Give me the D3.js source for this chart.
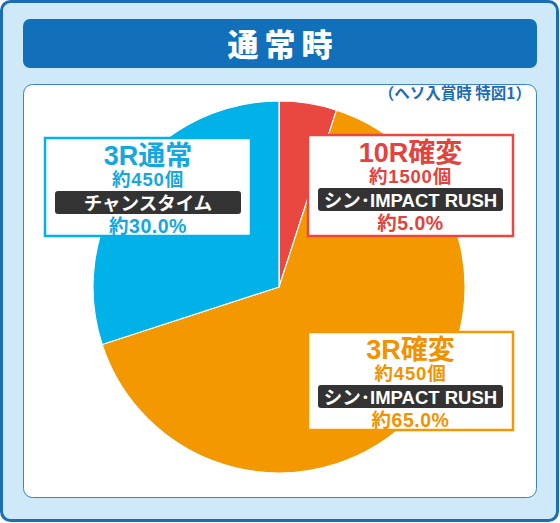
<!DOCTYPE html>
<html>
<head>
<meta charset="utf-8">
<script src="https://cdn.jsdelivr.net/npm/d3@7"></script>
<style>
  body { margin: 0; background: #fff; }
  svg text { font-family: "Liberation Sans", "Noto Sans CJK JP", sans-serif; }
  svg text.jp { font-family: "Noto Sans CJK JP", sans-serif; }
</style>
</head>
<body>
<div id="chart"></div>
<script>
const title = '通常時';
const subtitle = '（ヘソ入賞時 特図1）';

// slices, clockwise from 12 o'clock
const categories = ['10R確変', '3R確変', '3R通常'];
const payouts = ['約1500個', '約450個', '約450個'];
const modes = ['シン･IMPACT RUSH', 'シン･IMPACT RUSH', 'チャンスタイム'];
const shares = [5.0, 65.0, 30.0];
const colors = ['#e8483f', '#f39800', '#00b2e8'];
const textColors = ['#e3433d', '#f39200', '#14a7e0'];

// label box layout (px)
const boxes = [
  { x: 308, y: 135, w: 205, h: 101 },
  { x: 308, y: 332, w: 205, h: 98 },
  { x: 45, y: 138, w: 206, h: 98 }
];

const width = 560, height = 523;
const cx = 279, cy = 287, radius = 186;

const svg = d3.select('#chart').append('svg')
  .attr('width', width).attr('height', height);

// outer frame
svg.append('rect')
  .attr('x', 1.5).attr('y', 1.5)
  .attr('width', width - 4).attr('height', height - 4)
  .attr('rx', 9)
  .attr('fill', '#d0e9f8')
  .attr('stroke', '#1a6db6')
  .attr('stroke-width', 3);

// title bar
svg.append('rect')
  .attr('x', 23).attr('y', 19)
  .attr('width', 514).attr('height', 49)
  .attr('rx', 7)
  .attr('fill', '#1170b9');

svg.append('text')
  .attr('class', 'jp')
  .text(title)
  .attr('x', width / 2 + 3).attr('y', 56)
  .attr('text-anchor', 'middle')
  .attr('fill', '#fff')
  .style('font-size', '31px')
  .style('font-weight', 900)
  .style('letter-spacing', '6px');

// inner panel
svg.append('rect')
  .attr('x', 23.5).attr('y', 84.5)
  .attr('width', 513).attr('height', 413)
  .attr('rx', 9)
  .attr('fill', '#fff')
  .attr('stroke', '#3a83c4')
  .attr('stroke-width', 1);

svg.append('text')
  .attr('class', 'jp')
  .text(subtitle)
  .attr('x', 531).attr('y', 99)
  .attr('text-anchor', 'end')
  .attr('fill', '#1a6db6')
  .style('font-size', '15.5px')
  .style('font-weight', 700);

// pie
const pie = d3.pie().sort(null).value(d => d);
const arcGen = d3.arc().innerRadius(0).outerRadius(radius);

const pieG = svg.append('g')
  .attr('transform', `translate(${cx}, ${cy})`);

pieG.selectAll('path')
  .data(pie(shares))
  .join('path')
  .attr('d', arcGen)
  .attr('fill', (d, i) => colors[i])
  .attr('stroke', '#fff')
  .attr('stroke-width', 1.2)
  .attr('stroke-linejoin', 'round');

// labels
categories.forEach((cat, i) => {
  const b = boxes[i];
  const mid = b.x + b.w / 2;
  const g = svg.append('g');

  g.append('rect')
    .attr('x', b.x).attr('y', b.y)
    .attr('width', b.w).attr('height', b.h)
    .attr('fill', '#fff')
    .attr('stroke', colors[i])
    .attr('stroke-width', 2.5);

  g.append('text')
    .text(cat)
    .attr('x', mid).attr('y', b.y + 27)
    .attr('text-anchor', 'middle')
    .attr('fill', textColors[i])
    .style('font-size', '27px')
    .style('font-weight', 700);

  g.append('text')
    .text(payouts[i])
    .attr('x', mid).attr('y', b.y + 48)
    .attr('text-anchor', 'middle')
    .attr('fill', textColors[i])
    .style('font-size', '18.5px')
    .style('font-weight', 700)
    .style('letter-spacing', '0.8px');

  g.append('rect')
    .attr('x', b.x + 10).attr('y', b.y + 53)
    .attr('width', b.w - 20).attr('height', 23)
    .attr('rx', 3)
    .attr('fill', '#333');

  g.append('text')
    .text(modes[i])
    .attr('x', mid).attr('y', b.y + 71.5)
    .attr('text-anchor', 'middle')
    .attr('fill', '#fff')
    .style('font-size', '18.5px')
    .style('font-weight', 700);

  g.append('text')
    .text(`約${shares[i].toFixed(1)}%`)
    .attr('x', mid).attr('y', b.y + 95)
    .attr('text-anchor', 'middle')
    .attr('fill', textColors[i])
    .style('font-size', '19.5px')
    .style('font-weight', 700)
    .style('letter-spacing', '0.5px');
});
</script>
</body>
</html>
